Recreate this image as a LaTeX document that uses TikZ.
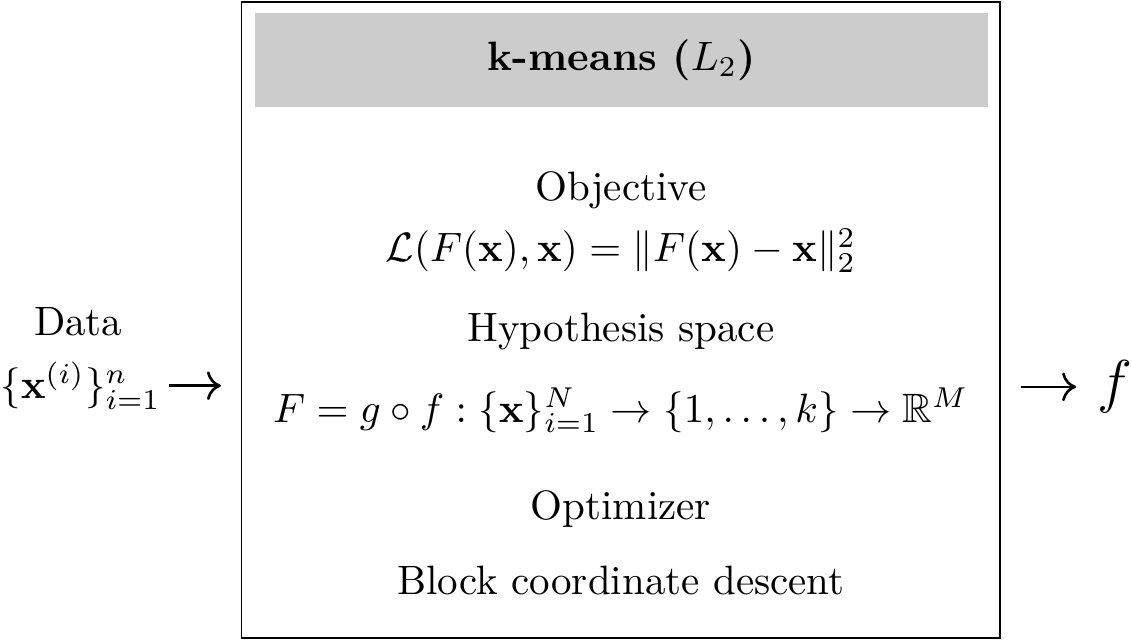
\documentclass[tikz,border=0pt]{standalone}
\usepackage{amsmath, amssymb}
\usetikzlibrary{arrows.meta}

\begin{document}
\begin{tikzpicture}[
  head/.style={fill=gray!40,minimum width=6.28cm,minimum height=0.805cm,inner sep=0pt},
  frame/.style={draw,minimum width=6.5cm,minimum height=5.45cm,inner sep=0pt},
  flow/.style={-{To[length=3.4pt,width=7pt]},line width=0.65pt}]
  \useasboundingbox (0,0) rectangle (9.70,5.485);
  \node[frame] (box)   at (5.32, 2.745) {};
  \node[head]  (title) at (5.326,4.97)  {\textbf{k-means ($L_2$)}};
  \node (obj)  at (5.32,3.855) {Objective};
  \node (loss) at (5.32,3.34) {$\mathcal{L}(F(\mathbf{x}),\mathbf{x}) = \|F(\mathbf{x})-\mathbf{x}\|_2^2$};
  \node (hyp)  at (5.32,2.645) {Hypothesis space};
  \node (map)  at (5.32,1.97) {$F = g\circ f : \{\mathbf{x}\}_{i=1}^N \to \{1,\ldots,k\} \to \mathbb{R}^M$};
  \node (opt)  at (5.32,1.125) {Optimizer};
  \node (bcd)  at (5.32,0.51) {Block coordinate descent};
  \node (data)  at (0.67,2.73) {Data};
  \node (datax) at (0.69,2.18) {$\{\mathbf{x}^{(i)}\}_{i=1}^n$};
  \node[font=\Large] (out) at (9.55,2.17) {$f$};
  \draw[flow,shorten <=-0.05cm,shorten >=0.17cm] (datax) -- (datax -| box.west);
  \draw[flow,shorten <=0.17cm,shorten >=0.056cm] (out -| box.east) -- (out);
\end{tikzpicture}
\end{document}
